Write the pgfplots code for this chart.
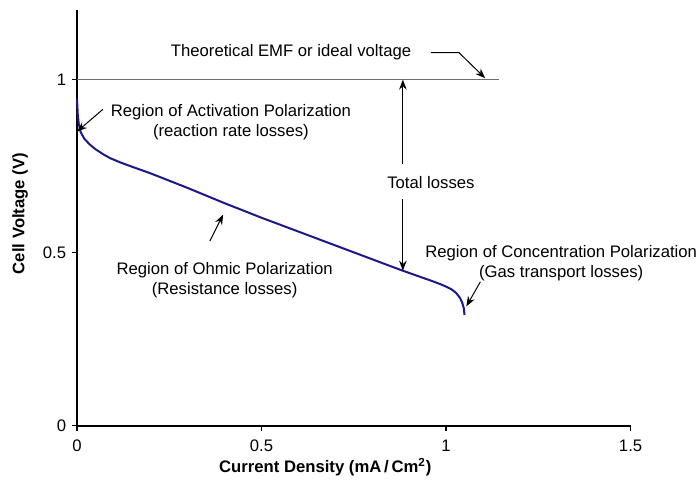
\documentclass[border=0pt]{standalone}
\usepackage{fontspec}
\setmainfont{Liberation Sans}
\usepackage{pgfplots}
\pgfplotsset{compat=1.18}
\usetikzlibrary{arrows.meta}
\definecolor{curveblue}{RGB}{25,25,135}
\definecolor{emfgray}{RGB}{110,110,110}
\begin{document}
\begin{tikzpicture}
\begin{axis}[
  scale only axis,
  width=331.8pt, height=249pt,
  xmin=0, xmax=1.5, ymin=0, ymax=1.2,
  axis x line=bottom, axis y line=left,
  axis line style={-, line width=1.2pt, black},
  xtick={0,0.5,1,1.5}, ytick={0,0.5,1},
  tick align=outside, major tick length=3pt,
  tick style={black, line width=0.8pt},
  /pgf/number format/assume math mode=true,
  ticklabel style={font=\fontsize{10}{12}\selectfont},
  xticklabel style={yshift=-2pt},
  clip=false,
  xlabel={\textbf{Current Density (mA\,/\,Cm\textsuperscript{2})}},
  ylabel={\textbf{Cell Voltage (V)}},
  every axis x label/.style={at={(axis description cs:0.4485,-0.1)}, anchor=center},
  every axis y label/.style={at={(axis description cs:-0.103,0.511)}, anchor=center, rotate=90},
]
\addplot[curveblue, line width=1.2pt] coordinates {
(0.000,0.945) (0.002,0.900) (0.005,0.870) (0.010,0.848) (0.020,0.829)
(0.035,0.812) (0.050,0.799) (0.070,0.785) (0.090,0.773) (0.117,0.761)
(0.150,0.748) (0.200,0.729) (0.250,0.708) (0.300,0.687) (0.350,0.665)
(0.400,0.643) (0.450,0.622) (0.500,0.601) (0.550,0.581) (0.600,0.561)
(0.650,0.541) (0.700,0.521) (0.750,0.501) (0.800,0.481) (0.850,0.461)
(0.883,0.448) (0.920,0.434) (0.960,0.419) (0.985,0.409) (1.000,0.402)
(1.015,0.394) (1.028,0.383) (1.038,0.369) (1.044,0.355) (1.048,0.340)
(1.050,0.320)
};
\addplot[emfgray, line width=0.9pt] coordinates {(0,1) (1.144,1)};
% annotations
\node at (axis cs:0.58,1.080) {Theoretical EMF or ideal voltage};
\draw[line width=0.6pt, -{Stealth[length=6pt,width=4.5pt]}] (axis cs:0.959,1.078) -- (axis cs:1.035,1.078) -- (axis cs:1.106,1.004);
\node[align=center] at (axis cs:0.417,0.876) {Region of Activation Polarization\\(reaction rate losses)};
\draw[line width=0.6pt, -{Stealth[length=6pt,width=4.5pt]}] (axis cs:0.070,0.914) -- (axis cs:0.0,0.850);
\node at (axis cs:0.959,0.704) {Total losses};
\draw[line width=0.6pt, -{Stealth[length=6pt,width=4.5pt]}] (axis cs:0.883,0.756) -- (axis cs:0.883,1.0);
\draw[line width=0.6pt, -{Stealth[length=6pt,width=4.5pt]}] (axis cs:0.883,0.655) -- (axis cs:0.883,0.448);
\node[align=center] at (axis cs:0.40,0.420) {Region of Ohmic Polarization\\(Resistance losses)};
\draw[line width=0.6pt, -{Stealth[length=6pt,width=4.5pt]}] (axis cs:0.360,0.534) -- (axis cs:0.396,0.610);
\node[align=center] at (axis cs:1.312,0.471) {Region of Concentration Polarization\\(Gas transport losses)};
\draw[line width=0.6pt, -{Stealth[length=6pt,width=4.5pt]}] (axis cs:1.093,0.416) -- (axis cs:1.055,0.345);
\coordinate (bbll) at (axis cs:-0.2087,-0.1695);
\coordinate (bbur) at (axis cs:1.680,1.230);
\end{axis}
\pgfresetboundingbox
\path (bbll) rectangle (bbur);
\end{tikzpicture}
\end{document}
